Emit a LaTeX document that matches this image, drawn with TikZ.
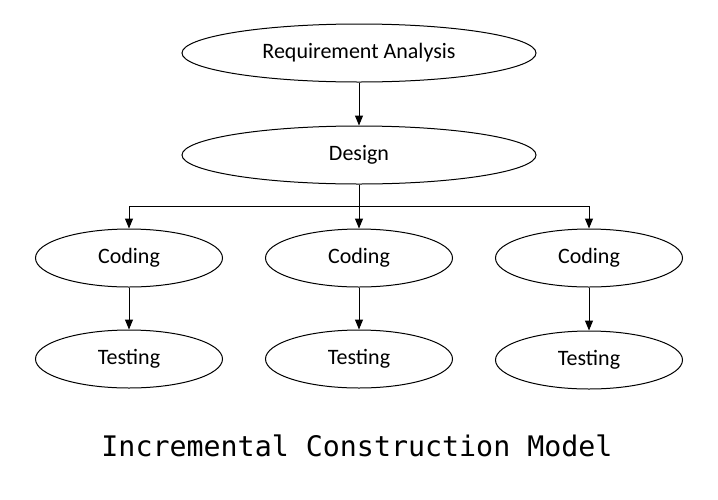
\documentclass[tikz,border=0pt]{standalone}
\usepackage{fontspec}
\setmainfont{Carlito}
\newfontfamily\titlefont{DejaVu Sans Mono}
\usetikzlibrary{shapes.geometric,arrows.meta}
\begin{document}
\begin{tikzpicture}[x=1pt,y=-1pt,
  oval/.style={ellipse,draw,line width=1pt,inner sep=0pt,font=\fontsize{22}{26}\selectfont},
  big/.style={oval,minimum width=354pt,minimum height=58pt},
  small/.style={oval,minimum width=187pt,minimum height=58pt},
  conn/.style={line width=1pt,-{Triangle[length=10pt,width=8pt]}}]
\useasboundingbox[fill=white] (0,0) rectangle (718,499);
\node[big] (req) at (359,53) {Requirement Analysis};
\node[big] (des) at (359,155) {Design};
\node[small] (c1) at (129,258) {Coding};
\node[small] (c2) at (359,258) {Coding};
\node[small] (c3) at (589,258) {Coding};
\node[small] (t1) at (129,359) {Testing};
\node[small] (t2) at (359,359) {Testing};
\node[small] (t3) at (589,360) {Testing};
\coordinate (j) at (359,206);
\draw[conn] (req) -- (des);
\draw[line width=1pt] (des) -- (j);
\draw[conn] (j) -- (c2);
\draw[conn] (j) -| (c1);
\draw[conn] (j) -| (c3);
\draw[conn] (c1) -- (t1);
\draw[conn] (c2) -- (t2);
\draw[conn] (c3) -- (t3);
\node[font=\titlefont\fontsize{28.3}{32}\selectfont] (title) at (357,446) {Incremental Construction Model};
\end{tikzpicture}
\end{document}
